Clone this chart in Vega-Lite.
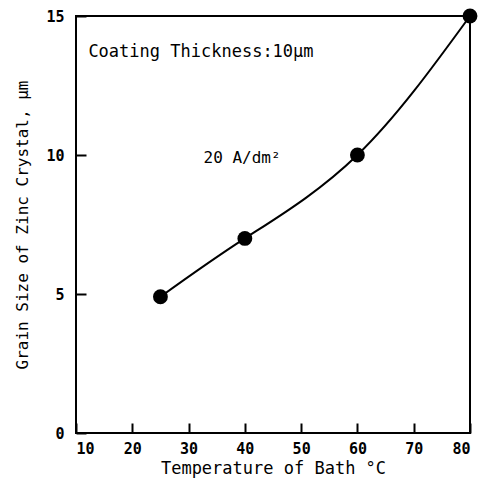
{
  "$schema": "https://vega.github.io/schema/vega-lite/v6.json",
  "width": 394,
  "height": 417,
  "autosize": {"type": "none"},
  "padding": {"left": 76, "top": 16, "right": 8, "bottom": 52},
  "background": "white",
  "config": {
    "view": {"stroke": "black", "strokeWidth": 2},
    "font": "DejaVu Sans Mono"
  },
  "datasets": {
    "pts": [
      {"temp": 25, "size": 4.9},
      {"temp": 40, "size": 7.0},
      {"temp": 60, "size": 10.0},
      {"temp": 80, "size": 15.0}
    ],
    "note1": [
      {"temp": 12.2, "size": 13.7, "label": "Coating Thickness:10μm"}
    ],
    "note2": [
      {"temp": 39.5, "size": 9.9, "label": "20 A/dm²"}
    ]
  },
  "layer": [
    {
      "data": {"name": "pts"},
      "mark": {"type": "line", "color": "black", "strokeWidth": 2, "interpolate": "natural"},
      "encoding": {
        "x": {
          "field": "temp", "type": "quantitative",
          "scale": {"domain": [10, 80], "nice": false},
          "axis": {
            "title": "Temperature of Bath °C",
            "values": [10, 20, 30, 40, 50, 60, 70, 80],
            "tickSize": -10, "tickColor": "black", "tickWidth": 2,
            "domain": false, "grid": false,
            "labelFont": "DejaVu Sans Mono", "labelFontSize": 15, "labelFontWeight": "bold", "labelColor": "black",
            "labelPadding": 18, "labelFlush": true,
            "titleFont": "DejaVu Sans Mono", "titleFontSize": 17, "titleFontWeight": "normal",
            "titleColor": "black", "titlePadding": 4
          }
        },
        "y": {
          "field": "size", "type": "quantitative",
          "scale": {"domain": [0, 15], "nice": false},
          "axis": {
            "title": "Grain Size of Zinc Crystal, μm",
            "values": [0, 5, 10, 15],
            "tickSize": -10, "tickColor": "black", "tickWidth": 2,
            "domain": false, "grid": false,
            "labelFont": "DejaVu Sans Mono", "labelFontSize": 15, "labelFontWeight": "bold", "labelColor": "black",
            "labelPadding": 22, "labelFlush": false,
            "titleFont": "DejaVu Sans Mono", "titleFontSize": 16, "titleFontWeight": "normal",
            "titleColor": "black", "titlePadding": 15
          }
        }
      }
    },
    {
      "data": {"name": "pts"},
      "mark": {"type": "point", "filled": true, "color": "black", "size": 220, "opacity": 1},
      "encoding": {
        "x": {"field": "temp", "type": "quantitative"},
        "y": {"field": "size", "type": "quantitative"}
      }
    },
    {
      "data": {"name": "note1"},
      "mark": {"type": "text", "color": "black", "fontSize": 17, "font": "DejaVu Sans Mono", "baseline": "middle", "align": "left"},
      "encoding": {
        "x": {"field": "temp", "type": "quantitative"},
        "y": {"field": "size", "type": "quantitative"},
        "text": {"field": "label"}
      }
    },
    {
      "data": {"name": "note2"},
      "mark": {"type": "text", "color": "black", "fontSize": 16, "font": "DejaVu Sans Mono", "baseline": "middle", "align": "center"},
      "encoding": {
        "x": {"field": "temp", "type": "quantitative"},
        "y": {"field": "size", "type": "quantitative"},
        "text": {"field": "label"}
      }
    }
  ]
}
